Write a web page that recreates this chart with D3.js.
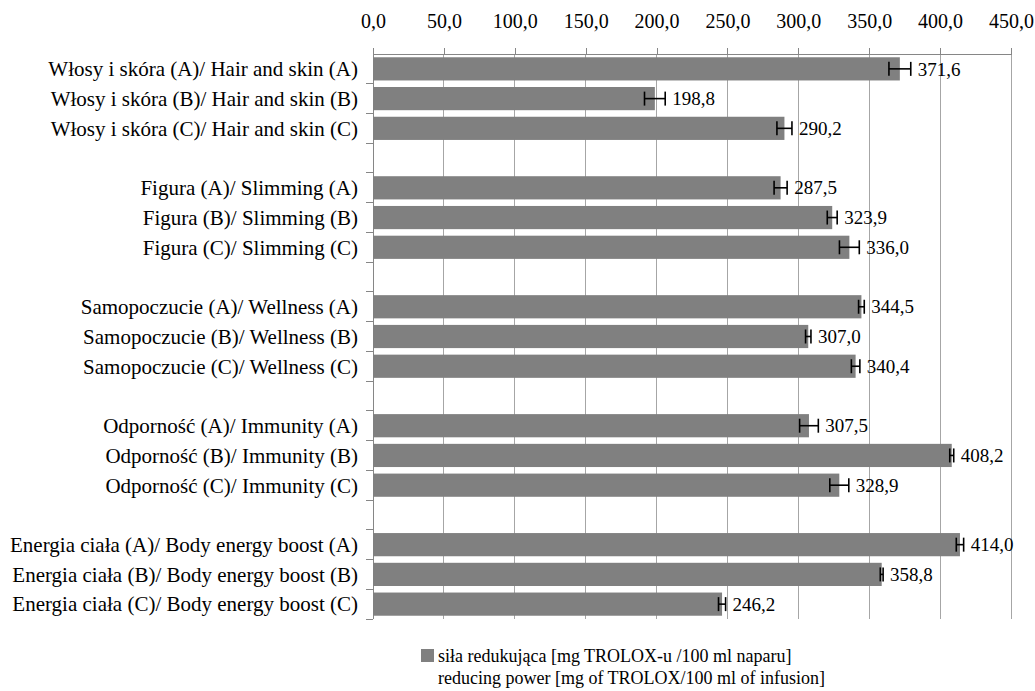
<!DOCTYPE html>
<html>
<head>
<meta charset="utf-8">
<script src="https://cdn.jsdelivr.net/npm/d3@7"></script>
<style>
  html, body { margin: 0; padding: 0; background: #fff; }
  svg { display: block; font-family: "Liberation Serif", "Times New Roman", serif; }
</style>
</head>
<body>
<svg id="chart" width="1035" height="691"></svg>
<script>
// ---- data ----
const categories = [
  "Włosy i skóra (A)/ Hair and skin (A)",
  "Włosy i skóra (B)/ Hair and skin (B)",
  "Włosy i skóra (C)/ Hair and skin (C)",
  "",
  "Figura (A)/ Slimming (A)",
  "Figura (B)/ Slimming (B)",
  "Figura (C)/ Slimming (C)",
  "",
  "Samopoczucie (A)/ Wellness (A)",
  "Samopoczucie (B)/ Wellness (B)",
  "Samopoczucie (C)/ Wellness (C)",
  "",
  "Odporność (A)/ Immunity (A)",
  "Odporność (B)/ Immunity (B)",
  "Odporność (C)/ Immunity (C)",
  "",
  "Energia ciała (A)/ Body energy boost (A)",
  "Energia ciała (B)/ Body energy boost (B)",
  "Energia ciała (C)/ Body energy boost (C)"
];
const values = [371.6, 198.8, 290.2, null, 287.5, 323.9, 336.0, null, 344.5, 307.0, 340.4, null, 307.5, 408.2, 328.9, null, 414.0, 358.8, 246.2];
const errors = [7.7, 7.3, 5.3, null, 4.6, 3.5, 7.0, null, 2.0, 1.9, 3.0, null, 6.6, 1.4, 6.7, null, 2.6, 1.0, 2.5];
const xTicks = [0, 50, 100, 150, 200, 250, 300, 350, 400, 450];
const legendLines = ["siła redukująca [mg TROLOX-u /100 ml naparu]", "reducing power [mg of TROLOX/100 ml of infusion]"];

(function () {
// ---- layout ----
const svg = d3.select("#chart");
const mLeft = 373, mRight = 1011, mTop = 54, mBottom = 619;
const fmt = v => d3.format(".1f")(v).replace(".", ",");

const x = d3.scaleLinear().domain([0, 450]).range([mLeft, mRight]);
const y = d3.scaleBand().domain(d3.range(categories.length)).range([mTop, mBottom]).paddingInner(0.22).paddingOuter(0.11);
const yb = d3.scaleBand().domain(d3.range(categories.length)).range([mTop, mBottom]);

// gridlines
svg.append("g").selectAll("line").data(xTicks.slice(1)).join("line")
  .attr("x1", d => x(d)).attr("x2", d => x(d))
  .attr("y1", mTop).attr("y2", mBottom)
  .attr("stroke", "#a6a6a6").attr("stroke-width", 1).attr("shape-rendering", "crispEdges");

// top axis
const xAxis = d3.axisTop(x).tickValues(xTicks).tickSize(6).tickPadding(20).tickFormat(fmt);
const gx = svg.append("g").attr("transform", `translate(0,${mTop})`).call(xAxis);
gx.select(".domain").attr("stroke", "#868686").attr("shape-rendering", "crispEdges");
gx.selectAll(".tick line").attr("stroke", "#868686").attr("shape-rendering", "crispEdges");
gx.selectAll(".tick text").attr("font-size", 20).attr("fill", "#000").attr("font-family", "Liberation Serif");

// left axis: line + boundary ticks
svg.append("line").attr("x1", mLeft).attr("x2", mLeft).attr("y1", mTop).attr("y2", mBottom)
  .attr("stroke", "#868686").attr("shape-rendering", "crispEdges");
const boundaries = d3.range(1, categories.length).map(i => yb(i)).concat([mBottom]);
svg.append("g").selectAll("line").data(boundaries).join("line")
  .attr("x1", mLeft - 7).attr("x2", mLeft)
  .attr("y1", d => d).attr("y2", d => d)
  .attr("stroke", "#868686").attr("shape-rendering", "crispEdges");

// category labels
svg.append("g").selectAll("text").data(categories).join("text")
  .attr("x", mLeft - 15)
  .attr("y", (d, i) => yb(i) + yb.bandwidth() / 2)
  .attr("dy", "0.35em")
  .attr("text-anchor", "end")
  .attr("font-size", 21)
  .text(d => d);

const idx = d3.range(values.length).filter(i => values[i] != null);

// bars
svg.append("g").selectAll("rect").data(idx).join("rect")
  .attr("x", x(0))
  .attr("y", i => y(i))
  .attr("width", i => x(values[i]) - x(0))
  .attr("height", y.bandwidth())
  .attr("fill", "#808080");

// error bars
const eg = svg.append("g").attr("stroke", "#000").attr("stroke-width", 1.6);
idx.forEach(i => {
  const cy = y(i) + y.bandwidth() / 2;
  const lo = x(values[i] - errors[i]), hi = x(values[i] + errors[i]);
  eg.append("line").attr("x1", lo).attr("x2", hi).attr("y1", cy).attr("y2", cy);
  eg.append("line").attr("x1", lo).attr("x2", lo).attr("y1", cy - 7).attr("y2", cy + 7);
  eg.append("line").attr("x1", hi).attr("x2", hi).attr("y1", cy - 7).attr("y2", cy + 7);
});

// value labels
svg.append("g").selectAll("text").data(idx).join("text")
  .attr("x", i => x(values[i] + errors[i]) + 7)
  .attr("y", i => y(i) + y.bandwidth() / 2)
  .attr("dy", "0.35em")
  .attr("font-size", 19)
  .text(i => fmt(values[i]));

// legend
svg.append("rect").attr("x", 421).attr("y", 649).attr("width", 13).attr("height", 13).attr("fill", "#808080");
svg.append("g").selectAll("text").data(legendLines).join("text")
  .attr("x", 438)
  .attr("y", (d, i) => 662 + i * 22)
  .attr("font-size", 18)
  .text(d => d);
})();
</script>
</body>
</html>
